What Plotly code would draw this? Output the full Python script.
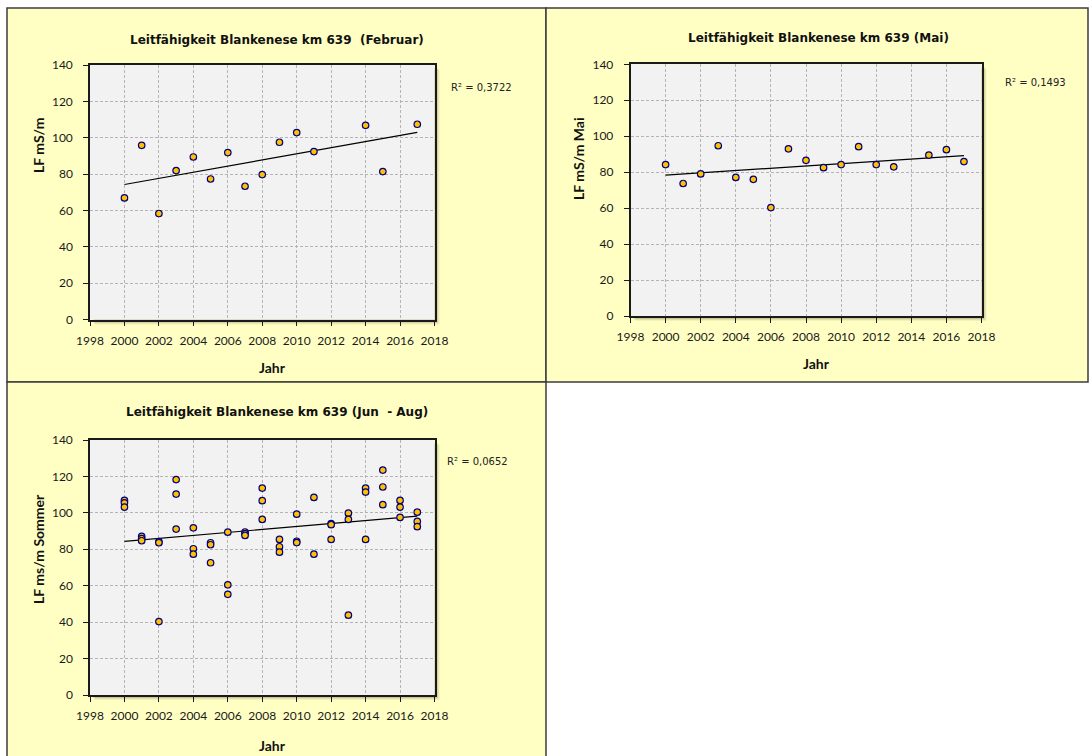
import numpy as np
import plotly.graph_objects as go

# ---- data -------------------------------------------------------------
feb_years = [2000, 2001, 2002, 2003, 2004, 2005, 2006, 2007, 2008, 2009,
             2010, 2011, 2014, 2015, 2017]
feb_lf = [66.9, 95.8, 58.3, 81.9, 89.4, 77.3, 91.8, 73.3, 79.7, 97.5,
          102.8, 92.4, 106.8, 81.4, 107.4]

mai_years = [2000, 2001, 2002, 2003, 2004, 2005, 2006, 2007, 2008, 2009,
             2010, 2011, 2012, 2013, 2015, 2016, 2017]
mai_lf = [84.2, 73.7, 79.0, 94.7, 77.1, 76.0, 60.3, 93.0, 86.6, 82.5,
          84.2, 94.2, 84.2, 83.0, 89.5, 92.5, 85.9]

sommer_years = [2000, 2000, 2000, 2001, 2001, 2001, 2002, 2002, 2002,
                2003, 2003, 2003, 2004, 2004, 2004, 2005, 2005, 2005,
                2006, 2006, 2006, 2007, 2007, 2007, 2008, 2008, 2008,
                2009, 2009, 2009, 2010, 2010, 2010, 2011, 2011,
                2012, 2012, 2012, 2013, 2013, 2013, 2014, 2014, 2014,
                2015, 2015, 2015, 2016, 2016, 2016, 2017, 2017, 2017]
sommer_lf = [106.8, 105.5, 103.2, 87.1, 85.8, 84.7, 84.2, 83.6, 40.3,
             118.3, 110.3, 91.1, 91.8, 80.3, 77.3, 83.6, 82.5, 72.6,
             89.4, 60.5, 55.3, 89.5, 88.6, 87.6, 113.6, 106.7, 96.4,
             85.4, 81.4, 78.4, 99.3, 84.4, 83.7, 108.5, 77.3,
             94.1, 93.5, 85.4, 99.8, 96.4, 43.8, 113.6, 111.4, 85.4,
             123.5, 114.2, 104.5, 106.8, 103.2, 97.5, 100.4, 95.3, 92.4]

panel_titles = ["Leitfähigkeit Blankenese km 639  (Februar)",
                "Leitfähigkeit Blankenese km 639 (Mai)",
                "Leitfähigkeit Blankenese km 639 (Jun  - Aug)"]
y_titles = ["LF mS/m", "LF mS/m Mai", "LF ms/m Sommer"]
r2_labels = ["R² = 0,3722", "R² = 0,1493", "R² = 0,0652"]
x_title = "Jahr"

# ---- layout (pixels) --------------------------------------------------
W, H = 1090, 756
# chart frames: (left, top, right, bottom)
frames = [(7, 8, 546, 382), (546, 8, 1088, 382), (7, 382, 546, 760)]
# plot areas: (left, top, right, bottom)
plots = [(90, 65, 434.5, 319.5), (630.5, 64.3, 981.5, 316), (90, 440, 434.5, 695)]
title_y = [40, 38, 412]
jahr_y = [367, 364, 745]
ytitle_xy = [(38, 146), (579, 158), (38, 549)]
r2_pos = [(481, 87), (1035, 82), (477, 461)]

FRAME_FILL = "#FFFFC4"
PLOT_FILL = "#F2F2F2"
MARKER_FILL = "#FFC000"
MARKER_LINE = "#000080"


def px(x):
    return x / W


def py(y):
    return 1 - y / H


series = [(feb_years, feb_lf), (mai_years, mai_lf), (sommer_years, sommer_lf)]

fig = go.Figure()
shapes = []
annotations = []

for i, ((xs, ys), fr, pl) in enumerate(zip(series, frames, plots)):
    n = "" if i == 0 else str(i + 1)
    xa, ya = "x" + n, "y" + n

    # chart frame
    shapes.append(dict(type="rect", xref="paper", yref="paper", layer="below",
                       x0=px(fr[0]), x1=px(fr[2]), y0=py(fr[3]), y1=py(fr[1]),
                       fillcolor=FRAME_FILL, line=dict(color="#3c3c3c", width=1.5)))
    # soft drop shadow of the plot area
    for off, alpha in [(5, 0.08), (4, 0.12), (3, 0.16)]:
        shapes.append(dict(type="rect", xref="paper", yref="paper", layer="below",
                           x0=px(pl[0] + off), x1=px(pl[2] + off),
                           y0=py(pl[3] + off), y1=py(pl[1] + off),
                           fillcolor=f"rgba(90,90,60,{alpha})", line=dict(width=0)))
    shapes.append(dict(type="rect", xref="paper", yref="paper", layer="below",
                       x0=px(pl[0]), x1=px(pl[2]), y0=py(pl[3]), y1=py(pl[1]),
                       fillcolor=PLOT_FILL, line=dict(width=0)))

    # linear trend over the observed years
    xarr = np.array(xs, dtype=float)
    yarr = np.array(ys, dtype=float)
    k, d = np.polyfit(xarr, yarr, 1)
    xt = np.array([xarr.min(), xarr.max()])
    fig.add_trace(go.Scatter(x=xt, y=k * xt + d, mode="lines",
                             line=dict(color="#000000", width=1.2),
                             xaxis=xa, yaxis=ya, showlegend=False, hoverinfo="skip"))
    fig.add_trace(go.Scatter(x=xs, y=ys, mode="markers",
                             marker=dict(size=6.5, color=MARKER_FILL,
                                         line=dict(color=MARKER_LINE, width=1.2)),
                             xaxis=xa, yaxis=ya, showlegend=False))

    axis_common = dict(showline=True, linecolor="#1a1a1a", linewidth=1.5, mirror=True,
                       ticks="outside", ticklen=5, tickcolor="#1a1a1a", tickwidth=1,
                       showgrid=True, gridcolor="#B4B4B4", gridwidth=1,
                       griddash="3px,2px", zeroline=False, layer="above traces",
                       automargin=False,
                       tickfont=dict(family="Lato", size=12, color="#1a1a1a"))
    fig.update_layout({
        "xaxis" + n: dict(axis_common, domain=[px(pl[0]), px(pl[2])], range=[1998, 2018],
                          dtick=2, tick0=1998, anchor=ya, ticklabelstandoff=4),
        "yaxis" + n: dict(axis_common, domain=[py(pl[3]), py(pl[1])], range=[0, 140],
                          dtick=20, tick0=0, anchor=xa, ticklabelstandoff=8),
    })

    cx = (fr[0] + fr[2]) / 2
    annotations.append(dict(xref="paper", yref="paper", x=px(cx + 1), y=py(title_y[i]),
                            text="<b>" + panel_titles[i] + "</b>", showarrow=False,
                            xanchor="center", yanchor="middle",
                            font=dict(family="DejaVu Sans", size=12, color="#111111")))
    annotations.append(dict(xref="paper", yref="paper", x=px((pl[0] + pl[2]) / 2 + 10),
                            y=py(jahr_y[i]), text="<b>" + x_title + "</b>", showarrow=False,
                            xanchor="center", yanchor="middle",
                            font=dict(family="Lato", size=14, color="#111111")))
    annotations.append(dict(xref="paper", yref="paper", x=px(ytitle_xy[i][0]),
                            y=py(ytitle_xy[i][1]), text="<b>" + y_titles[i] + "</b>",
                            textangle=-90, showarrow=False,
                            xanchor="center", yanchor="middle",
                            font=dict(family="Lato", size=14, color="#111111")))
    annotations.append(dict(xref="paper", yref="paper", x=px(r2_pos[i][0]),
                            y=py(r2_pos[i][1]), text=r2_labels[i], showarrow=False,
                            xanchor="center", yanchor="middle",
                            font=dict(family="DejaVu Sans", size=10, color="#222222")))

fig.update_layout(width=W, height=H, autosize=False,
                  margin=dict(l=0, r=0, t=0, b=0, pad=0, autoexpand=False),
                  paper_bgcolor="white", plot_bgcolor="rgba(0,0,0,0)",
                  shapes=shapes, annotations=annotations, showlegend=False)

fig.write_html("out.html")
